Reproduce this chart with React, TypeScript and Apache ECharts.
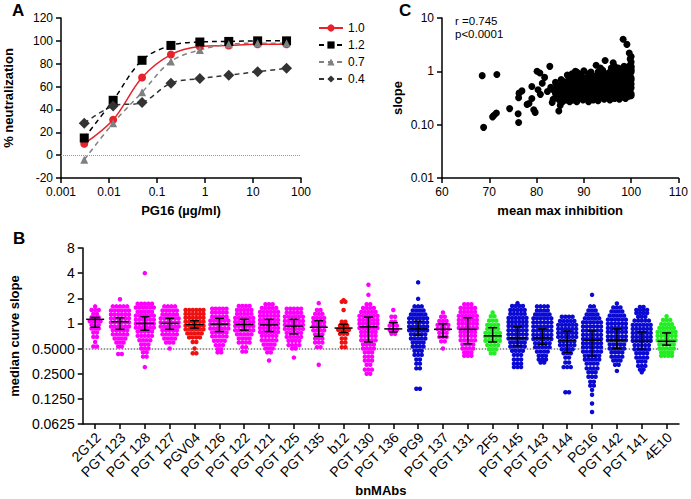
import React, { useEffect, useRef } from "react";
import * as echarts from "echarts";

// ---------- Panel A ----------
const concA = [0.00305, 0.0122, 0.0488, 0.195, 0.781, 3.125, 12.5, 50];
const neut10 = [10, 31, 68, 88, 95, 96, 97, 97];
const neut12 = [15, 48, 83, 96, 99, 99.5, 100, 100];
const neut07 = [-4, 28, 55, 82, 92, 97, 98, 98];
const neut04 = [28, 43, 46, 63, 67, 70, 73, 76];

// ---------- Panel C ----------
const cOutliers = [
  [68.5, 0.83], [71.6, 0.87], [68.8, 0.089], [70.7, 0.14], [71.0, 0.15], [71.5, 0.165],
  [74.3, 0.2], [76.1, 0.16], [76.2, 0.11], [76.2, 0.32], [76.3, 0.39], [76.9, 0.43],
  [78.0, 0.24], [78.4, 0.25], [79.0, 0.31], [79.4, 0.19], [79.7, 0.17], [79.0, 0.52],
  [80.1, 1.0], [80.7, 0.93], [80.3, 0.45], [80.8, 0.37], [81.2, 0.6], [81.7, 0.77],
  [82.8, 1.24], [84.7, 0.18], [83.3, 0.26], [82.3, 0.42], [83.0, 0.5], [84.0, 0.62],
  [85.2, 0.7], [85.0, 0.23], [83.5, 0.3], [84.2, 0.5], [85.5, 0.65], [86.5, 0.85],
  [88.2, 1.0], [92.6, 1.3], [94.5, 1.6], [96.2, 1.45], [98.3, 4.0], [99.1, 3.2],
  [99.6, 2.2], [100, 1.9], [99.8, 1.7], [100, 1.5],
];
const cBlob = [
  [85.5, 0.27], [87, 0.27], [88.5, 0.27], [91, 0.27], [93, 0.28], [95.5, 0.29], [97.5, 0.3],
  [84.8, 0.29], [86.3, 0.29], [87.8, 0.29], [89.8, 0.29], [92, 0.29], [94.3, 0.3], [96.5, 0.31], [98.8, 0.31],
  [84.5, 0.32], [86, 0.32], [87.5, 0.32], [89, 0.32], [90.5, 0.32], [92, 0.32], [93.5, 0.32], [95, 0.32], [96.5, 0.32], [98, 0.33], [99.5, 0.34],
  [85.2, 0.35], [86.8, 0.35], [88.3, 0.35], [89.8, 0.35], [91.3, 0.35], [92.8, 0.35], [94.3, 0.35], [95.8, 0.35], [97.3, 0.35], [98.8, 0.35], [100, 0.35],
  [84, 0.38], [85.5, 0.38], [87, 0.38], [88.5, 0.38], [90, 0.38], [91.5, 0.38], [93, 0.38], [94.5, 0.38], [96, 0.38], [97.5, 0.38], [99, 0.38], [100, 0.38],
  [84.8, 0.41], [86.3, 0.41], [87.8, 0.41], [89.3, 0.41], [90.8, 0.41], [92.3, 0.41], [93.8, 0.41], [95.3, 0.41], [96.8, 0.41], [98.3, 0.41], [99.6, 0.41],
  [83.5, 0.45], [85, 0.45], [86.5, 0.45], [88, 0.45], [89.5, 0.45], [91, 0.45], [92.5, 0.45], [94, 0.45], [95.5, 0.45], [97, 0.45], [98.5, 0.45], [99.8, 0.45],
  [85.3, 0.49], [86.8, 0.49], [88.3, 0.49], [89.8, 0.49], [91.3, 0.49], [92.8, 0.49], [94.3, 0.49], [95.8, 0.49], [97.3, 0.49], [98.8, 0.49], [100, 0.49],
  [84.5, 0.53], [86, 0.53], [87.5, 0.53], [89, 0.53], [90.5, 0.53], [92, 0.53], [93.5, 0.53], [95, 0.53], [96.5, 0.53], [98, 0.53], [99.5, 0.53],
  [85.3, 0.58], [86.8, 0.58], [88.3, 0.58], [89.8, 0.58], [91.3, 0.58], [92.8, 0.58], [94.3, 0.58], [95.8, 0.58], [97.3, 0.58], [98.8, 0.58], [100, 0.58],
  [86, 0.63], [87.5, 0.63], [89, 0.63], [90.5, 0.63], [92, 0.63], [93.5, 0.63], [95, 0.63], [96.5, 0.63], [98, 0.63], [99.8, 0.63],
  [86.8, 0.69], [88.3, 0.69], [89.8, 0.69], [91.3, 0.69], [92.8, 0.69], [94.3, 0.69], [95.8, 0.69], [97.3, 0.69], [98.8, 0.69], [100, 0.69],
  [87, 0.75], [88.5, 0.75], [90, 0.75], [91.5, 0.75], [93, 0.75], [94.5, 0.75], [96, 0.75], [97.5, 0.75], [99, 0.75], [100, 0.75],
  [88, 0.82], [89.5, 0.82], [91, 0.82], [92.5, 0.82], [94, 0.82], [95.5, 0.82], [97, 0.82], [98.5, 0.82], [99.8, 0.82],
  [87.5, 0.9], [89, 0.9], [91, 0.9], [93.5, 0.9], [95, 0.9], [96.5, 0.9], [98, 0.9], [99.5, 0.9],
  [88.5, 0.97], [91.5, 0.97], [93, 0.97], [95.5, 0.97], [97, 0.97], [98.5, 0.97], [100, 0.97],
  [90, 1.02], [94, 1.05], [96, 1.05], [97.5, 1.05], [99, 1.05], [100, 1.05],
  [93.5, 1.15], [95.8, 1.15], [97.3, 1.15], [98.8, 1.15], [100, 1.15],
  [96.5, 1.25], [98.5, 1.25], [99.5, 1.25], [100, 1.25],
];

// ---------- Panel B ----------
const mabs = ["2G12", "PGT 123", "PGT 128", "PGT 127", "PGV04", "PGT 126", "PGT 122", "PGT 121", "PGT 125", "PGT 135", "b12", "PGT 130", "PGT 136", "PG9", "PGT 137", "PGT 131", "2F5", "PGT 145", "PGT 143", "PGT 144", "PG16", "PGT 142", "PGT 141", "4E10"];
const mabColor = ["m", "m", "m", "m", "r", "m", "m", "m", "m", "m", "r", "m", "m", "b", "m", "m", "g", "b", "b", "b", "b", "b", "b", "g"];
const medians = [1.12, 1.05, 1.0, 1.0, 0.97, 0.98, 0.97, 0.96, 0.93, 0.9, 0.88, 0.91, 0.86, 0.86, 0.85, 0.85, 0.71, 0.67, 0.67, 0.63, 0.63, 0.63, 0.61, 0.61];
const q1s = [0.9, 0.85, 0.83, 0.85, 0.88, 0.8, 0.83, 0.8, 0.75, 0.7, 0.78, 0.6, 0.79, 0.72, 0.69, 0.57, 0.6, 0.54, 0.56, 0.45, 0.41, 0.5, 0.49, 0.55];
const q3s = [1.18, 1.17, 1.2, 1.15, 1.08, 1.15, 1.12, 1.12, 1.12, 1.08, 0.98, 1.19, 1.02, 1.06, 0.99, 1.17, 0.89, 0.91, 0.86, 0.81, 0.81, 0.86, 0.79, 0.77];

// each row: [slope, number of dots in that row]
const sw2G12 = [[1.6, 1], [1.45, 3], [1.3, 2], [1.18, 3], [1.06, 4], [0.96, 3], [0.87, 3], [0.78, 2], [0.69, 2], [0.6, 1], [0.53, 2]];
const swPGT123 = [[1.95, 1], [1.6, 5], [1.43, 6], [1.28, 6], [1.15, 6], [1.03, 6], [0.92, 6], [0.83, 5], [0.74, 5], [0.66, 4], [0.59, 3], [0.53, 2], [0.43, 2]];
const swPGT128 = [[4.0, 1], [1.72, 5], [1.55, 6], [1.38, 5], [1.24, 6], [1.11, 6], [0.99, 6], [0.89, 6], [0.8, 5], [0.71, 5], [0.63, 4], [0.56, 3], [0.5, 3], [0.45, 2], [0.4, 2], [0.3, 1]];
const swPGT127 = [[1.6, 4], [1.43, 5], [1.28, 5], [1.15, 6], [1.03, 6], [0.92, 6], [0.83, 5], [0.74, 5], [0.66, 4], [0.59, 3], [0.5, 1]];
const swPGV04 = [[1.45, 6], [1.3, 6], [1.17, 6], [1.05, 6], [0.94, 6], [0.85, 6], [0.76, 5], [0.68, 4], [0.6, 2], [0.5, 1], [0.44, 2]];
const swPGT126 = [[1.5, 5], [1.35, 5], [1.2, 5], [1.08, 6], [0.97, 6], [0.87, 6], [0.78, 5], [0.7, 5], [0.62, 4], [0.55, 3], [0.49, 2], [0.45, 2]];
const swPGT122 = [[1.62, 4], [1.45, 5], [1.3, 5], [1.16, 6], [1.04, 6], [0.93, 6], [0.83, 6], [0.74, 5], [0.66, 4], [0.59, 4], [0.52, 2], [0.46, 2]];
const swPGT121 = [[1.7, 3], [1.53, 5], [1.37, 6], [1.23, 6], [1.1, 6], [0.99, 6], [0.88, 6], [0.79, 6], [0.71, 5], [0.63, 5], [0.56, 4], [0.5, 3], [0.45, 2], [0.36, 1]];
const swPGT125 = [[1.5, 5], [1.34, 5], [1.2, 6], [1.07, 6], [0.96, 6], [0.86, 6], [0.77, 5], [0.69, 5], [0.62, 4], [0.55, 4], [0.5, 2], [0.39, 1]];
const swPGT135 = [[1.75, 1], [1.45, 2], [1.3, 3], [1.16, 4], [1.04, 4], [0.93, 4], [0.83, 4], [0.74, 3], [0.66, 3], [0.59, 3], [0.52, 2], [0.32, 1]];
const swB12 = [[1.9, 1], [1.82, 2], [1.45, 1], [1.05, 2], [0.94, 3], [0.84, 4], [0.75, 3], [0.66, 2], [0.59, 2], [0.52, 2]];
const swPGT130 = [[2.9, 1], [2.2, 1], [1.7, 2], [1.53, 4], [1.37, 5], [1.23, 6], [1.1, 6], [0.99, 6], [0.88, 6], [0.79, 5], [0.71, 5], [0.63, 5], [0.56, 4], [0.5, 4], [0.45, 3], [0.4, 3], [0.36, 3], [0.32, 2], [0.28, 3], [0.25, 2]];
const swPGT136 = [[1.45, 1], [1.2, 2], [1.05, 2], [0.94, 3], [0.84, 3], [0.75, 2]];
const swPG9 = [[3.1, 1], [1.97, 1], [1.6, 3], [1.43, 4], [1.28, 5], [1.15, 6], [1.03, 6], [0.92, 6], [0.83, 6], [0.74, 5], [0.66, 5], [0.59, 4], [0.53, 4], [0.47, 3], [0.42, 3], [0.37, 2], [0.33, 2], [0.29, 2], [0.165, 2]];
const swPGT137 = [[1.35, 1], [1.2, 2], [1.07, 3], [0.96, 4], [0.86, 4], [0.77, 3], [0.69, 3], [0.61, 2], [0.5, 1]];
const swPGT131 = [[1.7, 3], [1.53, 5], [1.37, 5], [1.23, 6], [1.1, 6], [0.99, 6], [0.88, 6], [0.79, 5], [0.71, 5], [0.63, 5], [0.56, 4], [0.5, 4], [0.45, 3], [0.41, 3]];
const sw2F5 = [[1.35, 1], [1.22, 2], [1.08, 3], [0.96, 4], [0.86, 4], [0.77, 5], [0.69, 5], [0.62, 5], [0.55, 4], [0.49, 3], [0.44, 2]];
const swPGT145 = [[1.75, 1], [1.62, 4], [1.45, 5], [1.3, 5], [1.16, 6], [1.04, 6], [0.93, 6], [0.83, 6], [0.74, 6], [0.66, 6], [0.59, 5], [0.53, 5], [0.47, 4], [0.42, 3], [0.37, 3], [0.33, 3], [0.3, 3]];
const swPGT143 = [[1.6, 4], [1.43, 4], [1.28, 5], [1.15, 6], [1.03, 6], [0.92, 6], [0.82, 6], [0.73, 6], [0.65, 6], [0.58, 5], [0.52, 5], [0.46, 4], [0.41, 3], [0.37, 3], [0.34, 2]];
const swPGT144 = [[1.2, 4], [1.07, 5], [0.96, 6], [0.86, 6], [0.77, 6], [0.69, 6], [0.61, 5], [0.55, 5], [0.49, 4], [0.44, 3], [0.39, 2], [0.34, 2], [0.3, 3], [0.15, 2]];
const swPG16 = [[2.2, 1], [1.6, 2], [1.43, 3], [1.28, 4], [1.15, 5], [1.03, 6], [0.92, 6], [0.82, 6], [0.73, 6], [0.65, 6], [0.58, 6], [0.52, 6], [0.46, 6], [0.41, 5], [0.37, 5], [0.33, 4], [0.29, 4], [0.26, 3], [0.23, 3], [0.2, 2], [0.18, 2], [0.16, 1], [0.14, 1], [0.11, 1], [0.087, 1]];
const swPGT142 = [[1.73, 1], [1.55, 3], [1.39, 4], [1.24, 5], [1.11, 6], [0.99, 6], [0.88, 6], [0.79, 6], [0.7, 6], [0.63, 6], [0.56, 5], [0.5, 5], [0.45, 4], [0.4, 4], [0.36, 3], [0.32, 2], [0.27, 1]];
const swPGT141 = [[1.57, 2], [1.45, 4], [1.33, 4], [1.2, 3], [1.08, 5], [0.96, 6], [0.86, 6], [0.77, 6], [0.69, 6], [0.62, 6], [0.55, 5], [0.49, 5], [0.44, 4], [0.39, 4], [0.35, 3], [0.31, 3], [0.28, 2], [0.26, 1]];
const sw4E10 = [[1.22, 1], [1.1, 3], [0.98, 4], [0.88, 5], [0.79, 6], [0.71, 6], [0.63, 6], [0.56, 5], [0.5, 5], [0.45, 4], [0.41, 4]];

const swarms = [sw2G12, swPGT123, swPGT128, swPGT127, swPGV04, swPGT126, swPGT122, swPGT121, swPGT125, swPGT135, swB12, swPGT130, swPGT136, swPG9, swPGT137, swPGT131, sw2F5, swPGT145, swPGT143, swPGT144, swPG16, swPGT142, swPGT141, sw4E10];

const FONT = "'Liberation Sans', Arial, Helvetica, sans-serif";
const dotColors: Record<string, string> = { m: "#ff00ff", r: "#ee1111", b: "#0a0ad2", g: "#22ee22" };

function axisStyle() {
  return {
    axisLine: { show: true, onZero: false, lineStyle: { color: "#000", width: 1.5 } },
    axisTick: { show: true, length: 5, lineStyle: { color: "#000", width: 1.5 } },
    axisLabel: { color: "#000", fontSize: 12, fontFamily: FONT },
    splitLine: { show: false },
    nameTextStyle: { color: "#000", fontSize: 13, fontWeight: "bold", fontFamily: FONT },
  };
}

export default function App() {
  const ref = useRef<HTMLDivElement>(null);
  useEffect(() => {
    if (!ref.current) return;
    const chart = echarts.init(ref.current, null, { renderer: "svg" });

    const dx = 3.7 / 25.7;
    const groups: Record<string, number[][]> = { m: [], r: [], b: [], g: [] };
    swarms.forEach((rows, idx) => {
      const key = mabColor[idx];
      rows.forEach(([v, n]) => {
        for (let k = 0; k < n; k++) groups[key].push([idx + (k - (n - 1) / 2) * dx, v]);
      });
    });
    const barData = mabs.map((_, i) => [i, medians[i], q1s[i], q3s[i]]);

    const lineA = (name: string, data: number[], color: string, symbol: string, size: number, dashed: boolean) => ({
      name,
      type: "line",
      xAxisIndex: 0,
      yAxisIndex: 0,
      data: concA.map((c, i) => [c, data[i]]),
      smooth: 0.35,
      symbol,
      symbolSize: size,
      itemStyle: { color, opacity: 1 },
      lineStyle: { color, width: 1.5, type: dashed ? [5, 4] : "solid" },
    });

    const baseGraphics = [
      { type: "text", id: "lblA", left: 12, top: 2, style: { text: "A", fontSize: 17, fontWeight: "bold", fill: "#000", fontFamily: FONT } },
      { type: "text", id: "lblB", left: 13, top: 230, style: { text: "B", fontSize: 17, fontWeight: "bold", fill: "#000", fontFamily: FONT } },
      { type: "text", id: "lblC", left: 399, top: 2, style: { text: "C", fontSize: 17, fontWeight: "bold", fill: "#000", fontFamily: FONT } },
      { type: "text", id: "rTxt", left: 455, top: 15, style: { text: "r =0.745", fontSize: 11.5, fill: "#000", fontFamily: FONT } },
      { type: "text", id: "pTxt", left: 455, top: 28, style: { text: "p<0.0001", fontSize: 11.5, fill: "#000", fontFamily: FONT } },
    ];

    const option: any = {
      animation: false,
      backgroundColor: "#fff",
      textStyle: { fontFamily: FONT },
      grid: [
        { left: 61, top: 18, width: 240, height: 160 },
        { left: 442, top: 18, width: 240, height: 160 },
        { left: 62, top: 248, width: 617, height: 176 },
      ],
      legend: {
        left: 313,
        top: 17,
        orient: "vertical",
        itemWidth: 24,
        itemHeight: 9,
        itemGap: 5,
        textStyle: { fontSize: 12, color: "#000", fontFamily: FONT },
        data: ["1.0", "1.2", "0.7", "0.4"],
      },
      xAxis: [
        {
          ...axisStyle(), gridIndex: 0, type: "log", logBase: 10, min: 0.001, max: 100,
          name: "PG16 (µg/ml)", nameLocation: "middle", nameGap: 26,
          axisLabel: { ...axisStyle().axisLabel, formatter: (v: number) => String(Number(v.toPrecision(6))) },
        },
        {
          ...axisStyle(), gridIndex: 1, type: "value", min: 60, max: 110, interval: 10,
          name: "mean max inhibition", nameLocation: "middle", nameGap: 26,
        },
        {
          ...axisStyle(), gridIndex: 2, type: "category", data: mabs, boundaryGap: true,
          axisTick: { ...axisStyle().axisTick, alignWithLabel: true, interval: 0 },
          axisLabel: { show: false },
          name: "bnMAbs", nameLocation: "middle", nameGap: 60,
        },
        { gridIndex: 2, type: "value", min: -0.5, max: 23.5, show: false },
      ],
      yAxis: [
        {
          ...axisStyle(), gridIndex: 0, type: "value", min: -20, max: 120, interval: 20,
          name: "% neutralization", nameLocation: "middle", nameGap: 46,
        },
        {
          ...axisStyle(), gridIndex: 1, type: "log", logBase: 10, min: 0.01, max: 10,
          name: "slope", nameLocation: "middle", nameGap: 38,
          axisLabel: { ...axisStyle().axisLabel, formatter: (v: number) => (v >= 1 ? String(Math.round(v)) : v.toFixed(2)) },
        },
        {
          ...axisStyle(), gridIndex: 2, type: "log", logBase: 2, min: 0.0625, max: 8, splitNumber: 7,
          name: "median curve slope", nameLocation: "middle", nameGap: 50,
          axisLabel: { ...axisStyle().axisLabel, fontSize: 14, formatter: (v: number) => (v >= 1 ? String(Math.round(v)) : v.toFixed(4)) },
        },
      ],
      series: [
        {
          type: "line", xAxisIndex: 0, yAxisIndex: 0, data: [], silent: true,
          markLine: {
            silent: true, symbol: "none", label: { show: false },
            lineStyle: { type: "dotted", color: "#999", width: 1 },
            data: [{ yAxis: 0 }],
          },
        },
        lineA("1.0", neut10, "#e8222a", "circle", 8, false),
        lineA("1.2", neut12, "#000000", "rect", 9, true),
        lineA("0.7", neut07, "#808080", "triangle", 8, true),
        lineA("0.4", neut04, "#333333", "diamond", 11, true),
        {
          type: "scatter", xAxisIndex: 1, yAxisIndex: 1, symbolSize: 7,
          itemStyle: { color: "#000", opacity: 1 },
          data: [...cBlob, ...cOutliers],
        },
        ...Object.keys(groups).map((k) => ({
          type: "scatter", xAxisIndex: 3, yAxisIndex: 2, symbolSize: 4.5,
          itemStyle: { color: dotColors[k], opacity: 1 },
          data: groups[k],
          z: 3,
        })),
        {
          type: "custom", xAxisIndex: 3, yAxisIndex: 2, z: 5,
          data: barData,
          encode: { x: 0, y: [1, 2, 3] },
          renderItem: (params: any, api: any) => {
            const x = api.value(0);
            const pm = api.coord([x, api.value(1)]);
            const plo = api.coord([x, api.value(2)]);
            const phi = api.coord([x, api.value(3)]);
            const st = { stroke: "#000", lineWidth: 1.5 };
            return {
              type: "group",
              children: [
                { type: "line", shape: { x1: pm[0] - 9, y1: pm[1], x2: pm[0] + 9, y2: pm[1] }, style: st },
                { type: "line", shape: { x1: plo[0], y1: plo[1], x2: phi[0], y2: phi[1] }, style: st },
                { type: "line", shape: { x1: plo[0] - 4.5, y1: plo[1], x2: plo[0] + 4.5, y2: plo[1] }, style: st },
                { type: "line", shape: { x1: phi[0] - 4.5, y1: phi[1], x2: phi[0] + 4.5, y2: phi[1] }, style: st },
              ],
            };
          },
          markLine: {
            silent: true, symbol: "none", label: { show: false }, z: 1,
            lineStyle: { type: "dotted", color: "#777", width: 1.5 },
            data: [{ yAxis: 0.5 }],
          },
        },
      ],
      graphic: baseGraphics,
    };
    chart.setOption(option);

    const customIndex = option.series.length - 1;
    const labelGraphics = mabs.map((name, i) => {
      const p = chart.convertToPixel({ seriesIndex: customIndex } as any, [i, 0.0625]) as number[];
      return {
        type: "text",
        id: "xl" + i,
        x: p[0] + 3,
        y: p[1] + 11,
        rotation: Math.PI / 4,
        style: { text: name, fontSize: 14, fill: "#000", fontFamily: FONT, align: "right", verticalAlign: "middle" },
      };
    });
    chart.setOption({ graphic: [...baseGraphics, ...labelGraphics] });
    return () => chart.dispose();
  }, []);
  return <div ref={ref} style={{ position: "fixed", left: 0, top: 0, width: 691, height: 499 }} />;
}
